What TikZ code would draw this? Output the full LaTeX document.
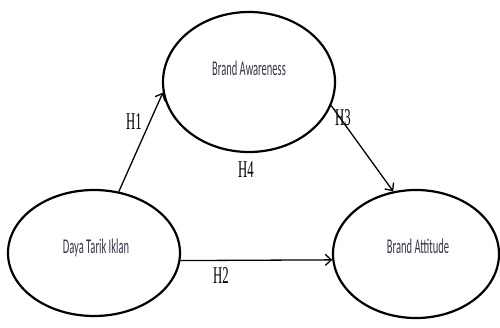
\documentclass[tikz,border=0pt]{standalone}
\usepackage{fontspec}
\usetikzlibrary{shapes.geometric,arrows.meta}
\newfontfamily\nodefont[FakeStretch=0.5]{Carlito}
\newfontfamily\hfont[FakeStretch=0.53]{Liberation Serif}
\definecolor{txtgray}{HTML}{353545}
\tikzset{
  construct/.style={ellipse, draw=black, line width=2.2pt, inner sep=0pt},
  ctext/.style={font=\nodefont\fontsize{21}{24}\selectfont, text=txtgray, inner sep=0pt},
  hlab/.style={font=\hfont\fontsize{24}{26}\selectfont, inner sep=0pt},
  path/.style={draw=black, line width=1.3pt, -{Straight Barb[length=6pt,width=11pt,line width=1.3pt]}}
}
\begin{document}
\begin{tikzpicture}[x=1pt,y=-1pt]
\useasboundingbox (0,0) rectangle (500,327);
\node[construct, minimum width=172pt, minimum height=140pt] (ba) at (249,82) {};
\node[construct, minimum width=172pt, minimum height=126pt] (dt) at (94,253) {};
\node[construct, minimum width=166pt, minimum height=128pt] (bat) at (416,254) {};
\node[ctext] (baT) at (249,68) {Brand Awareness};
\node[ctext] (dtT) at (96,248) {Daya Tarik Iklan};
\node[ctext] (batT) at (418,246) {Brand Attitude};
\draw[path] (dt.68.8) -- (ba.187.9);
\draw[path] (ba.344.7) -- (bat.110.6);
\draw[path] (dt.-5.4) -- (bat.184.85);
\node[hlab] (h1) at (134,122) {H1};
\node[hlab] (h3) at (343,118) {H3};
\node[hlab] (h4) at (246,170) {H4};
\node[hlab] (h2) at (221,276) {H2};
\end{tikzpicture}
\end{document}
